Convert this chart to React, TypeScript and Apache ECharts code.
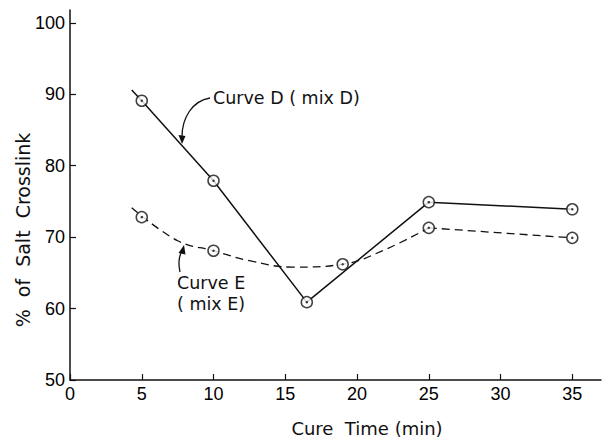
import React, { useEffect, useRef } from "react";
import * as echarts from "echarts";

// Measured points (cure time in min, % of salt crosslink)
const cureTimeD = [5, 10, 16.5, 25, 35];
const crosslinkD = [89.1, 77.9, 60.9, 74.9, 73.9];
const lineStartD = [4.3, 90.6];

const cureTimeE = [5, 10, 19, 25, 35];
const crosslinkE = [72.8, 68.1, 66.2, 71.3, 69.9];
// Hand-drawn fitted curve E
const curveEX = [4.3, 7.5, 10, 12.5, 15.5, 19, 22, 25];
const curveEY = [74.1, 69.5, 68.1, 66.7, 65.8, 66.2, 68.3, 71.3];
const tailEX = [25, 35];
const tailEY = [71.3, 69.9];

const xTicks = [0, 5, 10, 15, 20, 25, 30, 35];
const yTicks = [50, 60, 70, 80, 90, 100];

const xTitle = "Cure  Time (min)";
const yTitle = "%  of  Salt  Crosslink";
const labelD = "Curve D ( mix D)";
const labelE1 = "Curve E";
const labelE2 = "( mix E)";

const zip = (xs: number[], ys: number[]) => xs.map((x, i) => [x, ys[i]]);

export default function App() {
  const ref = useRef<HTMLDivElement>(null);
  useEffect(() => {
    if (!ref.current) return;
    const chart = echarts.init(ref.current, undefined, { renderer: "svg" });
    const tickFont = { fontFamily: "Liberation Sans", fontSize: 18, color: "#000" };
    const annFont = "DejaVu Sans";
    const circleStyle = { color: "#fff", borderColor: "#111", borderWidth: 1.5 };
    chart.setOption({
      animation: false,
      backgroundColor: "#fff",
      grid: { left: 70, right: 4, top: 10, bottom: 61 },
      xAxis: {
        type: "value",
        min: 0,
        max: 37,
        axisLine: { lineStyle: { color: "#111", width: 1.5 } },
        axisTick: { inside: true, length: 6, customValues: xTicks, lineStyle: { color: "#111", width: 1.2 } },
        axisLabel: { ...tickFont, margin: 5, customValues: xTicks },
        splitLine: { show: false },
      },
      yAxis: {
        type: "value",
        min: 50,
        max: 101.8,
        axisLine: { show: true, lineStyle: { color: "#111", width: 1.5 } },
        axisTick: { show: true, inside: true, length: 6, customValues: yTicks, lineStyle: { color: "#111", width: 1.2 } },
        axisLabel: { ...tickFont, margin: 5, customValues: yTicks },
        splitLine: { show: false },
      },
      series: [
        {
          type: "line",
          data: [lineStartD, ...zip(cureTimeD, crosslinkD)],
          showSymbol: false,
          lineStyle: { color: "#111", width: 1.5 },
          z: 2,
        },
        {
          type: "line",
          data: zip(curveEX, curveEY),
          smooth: 0.4,
          showSymbol: false,
          lineStyle: { color: "#111", width: 1.3, type: [8, 5] },
          z: 2,
        },
        {
          type: "line",
          data: zip(tailEX, tailEY),
          showSymbol: false,
          lineStyle: { color: "#111", width: 1.3, type: [8, 5] },
          z: 2,
        },
        {
          type: "scatter",
          data: zip(cureTimeD, crosslinkD),
          symbol: "circle",
          symbolSize: 11,
          itemStyle: circleStyle,
          z: 3,
        },
        {
          type: "scatter",
          data: zip(cureTimeE, crosslinkE),
          symbol: "circle",
          symbolSize: 11,
          itemStyle: circleStyle,
          z: 3,
        },
        {
          type: "scatter",
          data: [...zip(cureTimeD, crosslinkD), ...zip(cureTimeE, crosslinkE)],
          symbol: "circle",
          symbolSize: 2.5,
          itemStyle: { color: "#111" },
          z: 4,
        },
      ],
      graphic: [
        {
          type: "text",
          x: 23,
          y: 230,
          rotation: Math.PI / 2,
          style: {
            text: yTitle,
            fontFamily: annFont,
            fontSize: 19,
            fill: "#111",
            textAlign: "center",
            textVerticalAlign: "middle",
          },
        },
        {
          type: "text",
          x: 367,
          y: 428,
          style: {
            text: xTitle,
            fontFamily: annFont,
            fontSize: 18,
            fill: "#111",
            textAlign: "center",
            textVerticalAlign: "middle",
          },
        },
        {
          type: "text",
          x: 213,
          y: 98,
          style: {
            text: labelD,
            fontFamily: annFont,
            fontSize: 17.5,
            fill: "#111",
            textAlign: "left",
            textVerticalAlign: "middle",
          },
        },
        {
          type: "text",
          x: 177,
          y: 283,
          style: {
            text: labelE1,
            fontFamily: annFont,
            fontSize: 17.5,
            fill: "#111",
            textAlign: "left",
            textVerticalAlign: "middle",
          },
        },
        {
          type: "text",
          x: 177,
          y: 304,
          style: {
            text: labelE2,
            fontFamily: annFont,
            fontSize: 17.5,
            fill: "#111",
            textAlign: "left",
            textVerticalAlign: "middle",
          },
        },
        {
          type: "bezierCurve",
          shape: { x1: 210, y1: 98, cpx1: 192, cpy1: 101, cpx2: 182, cpy2: 118, x2: 182, y2: 137 },
          style: { stroke: "#111", lineWidth: 1.3, fill: null },
        },
        {
          type: "polygon",
          shape: { points: [[178.5, 135], [185.5, 136], [182, 144]] },
          style: { fill: "#111" },
        },
        {
          type: "bezierCurve",
          shape: { x1: 180, y1: 272, cpx1: 178, cpy1: 263, cpx2: 179, cpy2: 256, x2: 182, y2: 251 },
          style: { stroke: "#111", lineWidth: 1.3, fill: null },
        },
        {
          type: "polygon",
          shape: { points: [[178.5, 253], [185.5, 254.5], [184, 245]] },
          style: { fill: "#111" },
        },
      ],
    });
    return () => chart.dispose();
  }, []);
  return (
    <div
      ref={ref}
      style={{ position: "absolute", left: 0, top: 0, width: 605, height: 441, background: "#fff" }}
    />
  );
}
